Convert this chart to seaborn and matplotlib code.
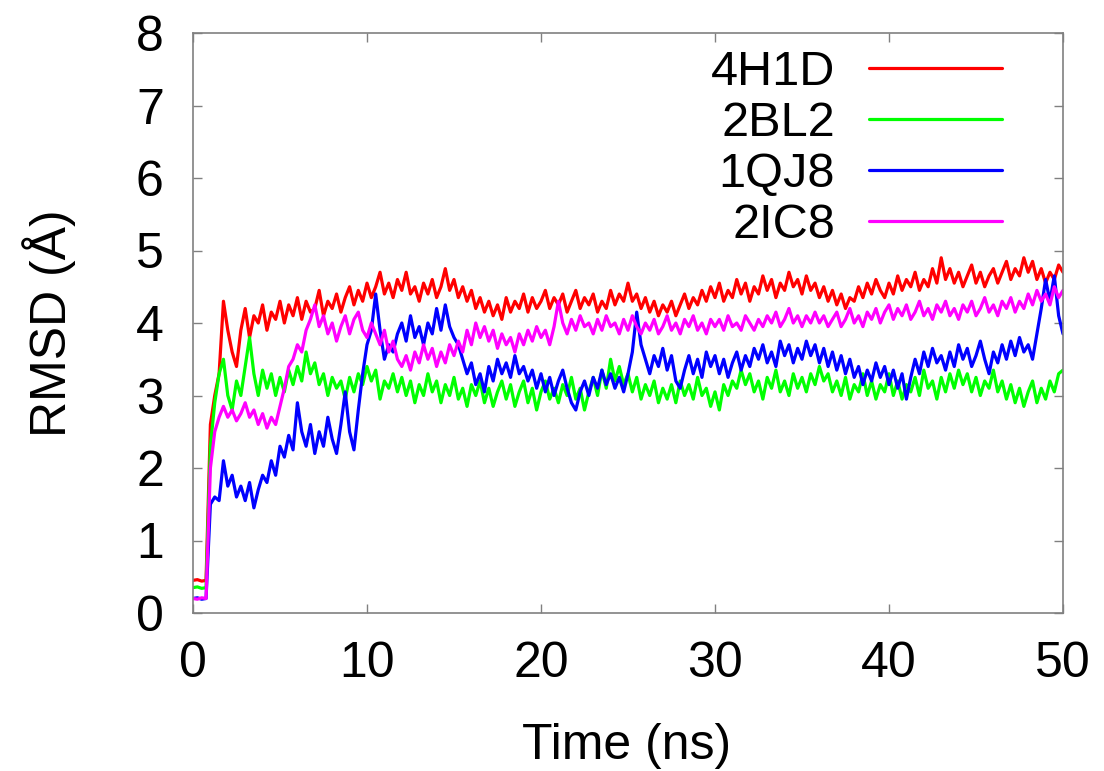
import numpy as np
import pandas as pd
import matplotlib
matplotlib.use("Agg")
import matplotlib.pyplot as plt
import seaborn as sns
from matplotlib.lines import Line2D

# time grid (ns), 0.25 ns sampling
time_ns = np.arange(0, 201) * 0.25

rmsd_4H1D = [
    0.45, 0.46, 0.44, 0.45, 2.6, 3.0, 3.3, 4.3, 3.9, 3.6,
    3.4, 3.9, 4.2, 3.8, 4.1, 4.0, 4.25, 3.9, 4.15, 4.05,
    4.3, 4.0, 4.25, 4.1, 4.35, 4.05, 4.3, 4.15, 4.2, 4.45,
    4.1, 4.3, 4.2, 4.4, 4.15, 4.35, 4.5, 4.25, 4.45, 4.3,
    4.55, 4.35, 4.5, 4.7, 4.4, 4.55, 4.35, 4.6, 4.45, 4.7,
    4.4, 4.5, 4.3, 4.55, 4.4, 4.6, 4.35, 4.5, 4.75, 4.45,
    4.6, 4.35, 4.5, 4.3, 4.45, 4.2, 4.35, 4.15, 4.3, 4.1,
    4.25, 4.05, 4.35, 4.15, 4.3, 4.2, 4.4, 4.15, 4.35, 4.2,
    4.3, 4.45, 4.2, 4.35, 4.25, 4.4, 4.15, 4.3, 4.45, 4.2,
    4.35, 4.25, 4.4, 4.15, 4.3, 4.2, 4.45, 4.25, 4.4, 4.3,
    4.55, 4.3, 4.4, 4.2, 4.35, 4.15, 4.3, 4.1, 4.25, 4.15,
    4.3, 4.1, 4.25, 4.4, 4.2, 4.35, 4.25, 4.45, 4.3, 4.5,
    4.35, 4.55, 4.3, 4.45, 4.35, 4.6, 4.4, 4.55, 4.3, 4.5,
    4.4, 4.65, 4.45, 4.6, 4.35, 4.55, 4.45, 4.7, 4.5, 4.6,
    4.4, 4.65, 4.45, 4.55, 4.35, 4.5, 4.3, 4.45, 4.25, 4.4,
    4.2, 4.35, 4.3, 4.5, 4.35, 4.55, 4.4, 4.6, 4.45, 4.35,
    4.55, 4.4, 4.65, 4.45, 4.6, 4.5, 4.7, 4.45, 4.6, 4.5,
    4.75, 4.55, 4.9, 4.6, 4.75, 4.55, 4.7, 4.5, 4.65, 4.8,
    4.55, 4.7, 4.5, 4.65, 4.75, 4.55, 4.7, 4.85, 4.6, 4.75,
    4.65, 4.9, 4.7, 4.85, 4.6, 4.75, 4.55, 4.7, 4.6, 4.8,
    4.7,
]

rmsd_2BL2 = [
    0.35, 0.36, 0.34, 0.35, 2.3, 2.9, 3.3, 3.5, 3.0, 2.8,
    3.2, 3.0, 3.4, 3.8, 3.3, 3.0, 3.35, 3.1, 3.3, 3.0,
    3.25, 3.05, 3.35, 3.15, 3.4, 3.2, 3.6, 3.3, 3.45, 3.15,
    3.3, 3.0, 3.25, 3.1, 3.2, 2.95, 3.25, 3.05, 3.3, 3.15,
    3.4, 3.2, 3.35, 2.95, 3.2, 3.1, 3.3, 3.05, 3.25, 3.0,
    3.2, 2.9, 3.15, 3.0, 3.3, 3.05, 3.2, 2.9, 3.15, 3.0,
    3.25, 2.95, 3.1, 2.85, 3.15, 3.0, 3.2, 2.9, 3.1, 2.85,
    3.05, 3.2, 2.95, 3.15, 2.85, 3.05, 3.2, 2.9, 3.1, 2.8,
    3.05, 3.2, 2.95, 3.1, 2.9, 3.15, 3.0, 3.25, 2.95, 3.1,
    2.8, 3.05, 3.25, 3.0, 3.35, 3.1, 3.5, 3.2, 3.4, 3.15,
    3.3, 3.05, 3.25, 2.95, 3.15, 3.0, 3.2, 2.9, 3.1, 2.95,
    3.15, 2.9, 3.2, 3.0, 3.15, 2.95, 3.25, 3.0, 3.1, 2.85,
    3.05, 2.8, 3.15, 3.0, 3.2, 3.1, 3.35, 3.15, 3.3, 3.05,
    3.2, 2.95, 3.25, 3.1, 3.35, 3.05, 3.2, 3.0, 3.3, 3.1,
    3.25, 3.05, 3.3, 3.15, 3.4, 3.2, 3.3, 3.05, 3.2, 3.0,
    3.25, 2.95, 3.15, 3.05, 3.3, 3.0, 3.2, 2.95, 3.15, 3.05,
    3.3, 3.0, 3.2, 2.95, 3.15, 3.05, 3.25, 3.0, 3.35, 3.1,
    3.2, 2.95, 3.25, 3.05, 3.3, 3.1, 3.35, 3.15, 3.3, 3.05,
    3.25, 3.0, 3.2, 3.1, 3.35, 3.05, 3.2, 2.95, 3.15, 2.9,
    3.1, 2.85, 3.05, 3.2, 2.9, 3.1, 2.95, 3.2, 3.05, 3.3,
    3.35,
]

rmsd_1QJ8 = [
    0.2, 0.21, 0.19, 0.2, 1.5, 1.6, 1.55, 2.1, 1.75, 1.9,
    1.6, 1.75, 1.55, 1.8, 1.45, 1.7, 1.9, 1.8, 2.1, 1.9,
    2.3, 2.15, 2.45, 2.25, 2.9, 2.5, 2.3, 2.6, 2.2, 2.5,
    2.3, 2.7, 2.4, 2.2, 2.6, 3.05, 2.5, 2.25, 2.8, 3.3,
    3.7, 3.9, 4.4, 3.9, 3.5, 3.7, 3.6, 3.85, 4.0, 3.75,
    4.1, 3.8, 3.95, 3.7, 4.0, 3.85, 4.2, 3.9, 4.25, 3.95,
    3.8, 3.7, 3.5, 3.3, 3.45, 3.15, 3.3, 3.05, 3.4, 3.2,
    3.5, 3.3, 3.45, 3.25, 3.55, 3.3, 3.4, 3.2, 3.35, 3.1,
    3.3, 3.05, 3.25, 3.0, 3.2, 3.35, 3.1, 2.9, 2.8, 3.05,
    3.2, 3.0, 3.25, 3.1, 3.35, 3.15, 3.3, 3.1, 3.25, 3.05,
    3.3, 3.6, 4.15, 3.7, 3.5, 3.3, 3.55, 3.4, 3.65, 3.35,
    3.55, 3.2, 3.1, 3.35, 3.55, 3.3, 3.5, 3.25, 3.6, 3.4,
    3.55, 3.3, 3.5, 3.25, 3.45, 3.6, 3.35, 3.55, 3.4, 3.65,
    3.5, 3.7, 3.45, 3.6, 3.4, 3.75, 3.55, 3.7, 3.45, 3.65,
    3.5, 3.75, 3.55, 3.7, 3.45, 3.65, 3.4, 3.6, 3.35, 3.55,
    3.3, 3.5, 3.25, 3.4, 3.15, 3.35, 3.2, 3.45, 3.25, 3.4,
    3.15, 3.35, 3.1, 3.3, 2.95, 3.25, 3.5, 3.3, 3.6, 3.4,
    3.65, 3.45, 3.55, 3.35, 3.6, 3.4, 3.7, 3.5, 3.65, 3.4,
    3.55, 3.75, 3.5, 3.3, 3.6, 3.45, 3.7, 3.5, 3.75, 3.55,
    3.8, 3.6, 3.7, 3.5, 3.85, 4.2, 4.6, 4.3, 4.65, 4.1,
    3.85,
]

rmsd_2IC8 = [
    0.2, 0.19, 0.21, 0.2, 2.0, 2.5, 2.7, 2.85, 2.7, 2.8,
    2.65, 2.75, 2.9, 2.7, 2.8, 2.6, 2.75, 2.55, 2.7, 2.6,
    2.85, 3.1, 3.4, 3.5, 3.7, 3.6, 3.9, 4.05, 4.25, 3.95,
    4.1, 3.85, 4.0, 3.75, 3.95, 4.1, 3.85, 4.05, 4.15, 3.9,
    3.8, 4.0, 3.85, 3.7, 3.9, 3.6, 3.75, 3.5, 3.4, 3.55,
    3.35, 3.6, 3.45, 3.7, 3.5, 3.65, 3.4, 3.6, 3.45, 3.7,
    3.55, 3.75, 3.6, 3.9, 3.7, 4.0, 3.8, 3.95, 3.75, 3.9,
    3.65, 3.85, 3.7, 3.8, 3.6, 3.85, 3.7, 3.9, 3.75, 3.95,
    3.8, 3.9, 3.7, 3.95, 4.3, 4.0, 3.85, 4.05, 3.9, 4.1,
    3.95, 4.0, 3.85, 4.05, 3.9, 4.1, 3.95, 4.0, 3.85, 4.05,
    3.9, 4.1, 3.95, 3.85, 4.0, 3.9, 4.05, 3.85, 3.95, 4.1,
    3.9, 4.0, 3.85, 4.05, 3.95, 4.1, 3.9, 4.0, 3.85, 4.05,
    3.95, 4.05, 3.9, 4.1, 3.95, 4.0, 3.9, 4.1, 4.0, 3.9,
    4.05, 3.95, 4.1, 4.0, 4.15, 3.95, 4.05, 4.2, 4.0, 4.1,
    3.95, 4.1, 4.0, 4.15, 4.0, 4.1, 3.95, 4.05, 4.15, 3.95,
    4.05, 4.2, 4.0, 4.1, 3.95, 4.15, 4.05, 4.2, 4.0, 4.15,
    4.25, 4.05, 4.2, 4.1, 4.25, 4.05, 4.15, 4.3, 4.1, 4.2,
    4.05, 4.25, 4.15, 4.3, 4.1, 4.2, 4.05, 4.25, 4.15, 4.3,
    4.1, 4.2, 4.35, 4.15, 4.25, 4.1, 4.3, 4.2, 4.35, 4.15,
    4.3, 4.2, 4.4, 4.25, 4.45, 4.3, 4.4, 4.25, 4.5, 4.35,
    4.45,
]

labels = ["4H1D", "2BL2", "1QJ8", "2IC8"]
colors = ["#ff0000", "#00ff00", "#0000ff", "#ff00ff"]
series = [rmsd_4H1D, rmsd_2BL2, rmsd_1QJ8, rmsd_2IC8]

frames = []
for lab, vals in zip(labels, series):
    frames.append(pd.DataFrame({"Time": time_ns, "RMSD": vals, "System": lab}))
df = pd.concat(frames, ignore_index=True)

sns.set_theme(style="white")
plt.rcParams["font.family"] = ["Liberation Sans", "DejaVu Sans"]
plt.rcParams["text.color"] = "black"

fig = plt.figure(figsize=(11.04, 7.71), dpi=100)
ax = fig.add_axes([193 / 1104, 1 - 613 / 771, (1063 - 193) / 1104, (613 - 33) / 771])

sns.lineplot(data=df, x="Time", y="RMSD", hue="System", hue_order=labels,
             palette=colors, estimator=None, sort=False, linewidth=2.3,
             legend=False, ax=ax)

ax.set_xlim(0, 50)
ax.set_ylim(0, 8)
ax.set_xticks([0, 10, 20, 30, 40, 50])
ax.set_yticks(range(0, 9))

for sp in ax.spines.values():
    sp.set_color("#808080")
    sp.set_linewidth(1.2)
    sp.set_visible(True)

ax.tick_params(axis="both", which="both", direction="in", length=6.5, width=1.0,
               color="#808080", labelsize=36, labelcolor="black",
               top=True, right=True, bottom=True, left=True)
ax.tick_params(axis="x", pad=20.5)
ax.tick_params(axis="y", pad=21)

ax.set_xlabel("Time (ns)", fontsize=36, color="black")
ax.set_ylabel("RMSD (Å)", fontsize=36, color="black")
ax.xaxis.set_label_coords(0.498, -0.19)
ax.yaxis.set_label_coords(-0.135, 0.5)

handles = [Line2D([0], [0], color=c, lw=2.3) for c in colors]
leg = ax.legend(handles, labels, loc="upper right", bbox_to_anchor=(0.930, 0.970),
                frameon=False, markerfirst=False, fontsize=35, labelcolor="black",
                handlelength=2.74, handletextpad=0.7, labelspacing=0.12,
                borderaxespad=0.0, borderpad=0.0)

fig.savefig("out.png", dpi=100)
